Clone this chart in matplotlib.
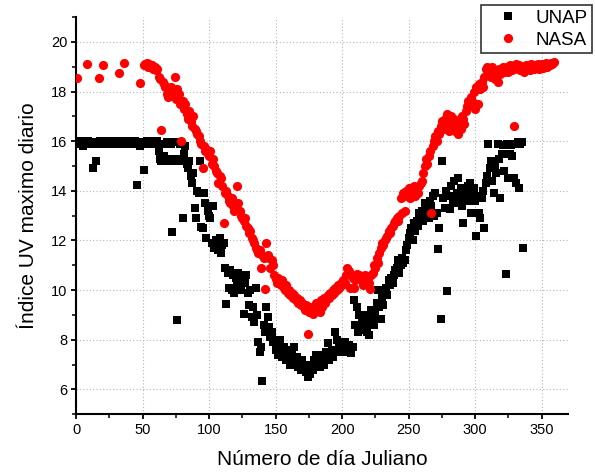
import matplotlib
matplotlib.use("Agg")
import matplotlib.pyplot as plt
from matplotlib.ticker import MultipleLocator

plt.rcParams['font.family'] = ['Liberation Sans', 'DejaVu Sans']

# ---- data ----
unap_day = [1, 2, 3, 4, 5, 6, 7, 8, 9, 10, 11, 12, 13, 14, 15, 16, 17, 18,
            22, 23, 24, 25, 26, 27, 28, 29, 30, 31, 32, 33, 34, 35, 36, 37, 38, 39, 40,
            41, 42, 43, 44, 45, 46, 47, 48, 49, 50, 51, 52, 53, 54, 55, 56, 57, 58, 59, 60, 61,
            62, 63, 64, 65, 66, 67, 68, 69, 70, 71, 72, 73, 74, 75, 76, 77, 78, 79, 80,
            81, 82, 83, 84, 85, 86, 87, 88, 89, 90, 91, 92, 93, 94, 95, 96, 97, 98, 99, 100,
            101, 102, 103, 104, 105, 106, 107, 108, 109, 110, 111, 112, 113, 114, 115, 116, 117, 118, 119, 120,
            121, 122, 123, 124, 125, 126, 127, 128, 129, 130, 131, 132, 133, 134, 135, 136, 137, 138, 139, 140,
            141, 142, 143, 144, 145, 146, 147, 148, 149, 150, 151, 152, 153, 154, 155, 156, 157, 158, 159, 160,
            161, 162, 163, 164, 165, 166, 167, 168, 169, 170, 171, 172, 173, 174, 175, 176, 177, 178, 179, 180,
            181, 182, 183, 184, 185, 186, 187, 188, 189, 190, 191, 192, 193, 194, 195, 196, 197, 198, 199, 200,
            201, 202, 203, 204, 205, 206, 207, 208, 209, 210, 211, 212, 213, 214, 215, 216, 217, 218, 219, 220,
            221, 222, 223, 224, 225, 226, 227, 228, 229, 230, 231, 232, 233, 234, 235, 236, 237, 238, 239, 240,
            241, 242, 243, 244, 245, 246, 247, 248, 249, 250, 251, 252, 253, 254, 255, 256, 257, 258, 259, 260,
            261, 262, 263, 264, 265, 266, 267, 268, 269, 270, 271, 272, 273, 274, 275, 276, 277, 278, 279, 280,
            281, 282, 283, 284, 285, 286, 287, 288, 289, 290, 291, 292, 293, 294, 295, 296, 297, 298, 299, 300,
            301, 302, 303, 304, 305, 306, 307, 308, 309, 310, 311, 312, 313, 314, 315, 316, 317, 318, 319, 320,
            321, 322, 323, 324, 325, 326, 327, 328, 329, 330, 331, 332, 333, 334, 335, 336]
unap_uv = [15.95, 15.9, 16.0, 15.9, 15.8, 15.95, 15.9, 15.95, 16.0, 15.9, 15.95, 15.9, 14.9, 15.95, 15.2, 15.9, 15.95, 16.0,
           15.9, 15.95, 16.0, 15.9, 15.95, 15.9, 16.0, 15.95, 15.9, 15.95, 16.0, 15.9, 15.95, 15.9, 16.0, 15.95, 15.9, 15.95, 16.0,
           15.9, 15.95, 15.9, 16.0, 15.95, 14.25, 15.9, 15.8, 15.95, 15.9, 14.85, 15.95, 16.0, 15.9, 15.95, 15.9, 16.0, 15.95, 15.9, 15.95, 16.0,
           15.6, 15.3, 15.2, 15.9, 15.4, 15.3, 15.95, 15.2, 15.3, 15.9, 12.35, 15.3, 15.95, 15.2, 8.8, 15.3, 15.9, 15.2, 12.9,
           15.5, 15.8, 15.1, 14.9, 15.2, 14.6, 14.3, 14.7, 13.3, 12.9, 14.0, 13.9, 15.2, 12.55, 12.5, 13.9, 13.5, 12.1, 13.2, 13.0,
           12.9, 11.9, 13.4, 11.7, 12.0, 11.8, 11.6, 12.1, 11.5, 11.8, 11.9, 10.9, 9.45, 10.7, 10.1, 10.8, 10.0, 10.6, 9.9, 10.5,
           10.3, 10.7, 10.0, 10.2, 10.5, 9.05, 10.3, 10.6, 9.9, 9.4, 10.0, 8.9, 9.3, 8.7, 10.1, 9.0, 7.9, 7.5, 7.7, 6.35,
           8.6, 8.3, 9.3, 8.9, 8.5, 8.1, 8.3, 7.9, 8.0, 7.6, 7.8, 7.4, 8.0, 7.6, 7.3, 7.7, 7.5, 7.2, 7.6, 7.4,
           7.0, 7.5, 7.2, 7.7, 7.0, 7.3, 6.9, 7.1, 6.8, 7.2, 6.9, 7.0, 6.7, 6.5, 6.85, 6.6, 7.0, 6.8, 7.2, 7.4,
           7.0, 7.3, 6.9, 7.1, 7.4, 7.0, 7.3, 7.5, 7.85, 7.2, 7.4, 7.6, 7.3, 7.5, 8.3, 8.0, 7.6, 7.8, 7.5, 7.7,
           7.6, 7.9, 7.5, 7.7, 7.8, 7.6, 7.45, 7.7, 9.6, 8.6, 9.3, 8.3, 9.0, 8.5, 8.8, 8.4, 9.0, 8.6, 8.3, 8.2,
           8.7, 9.2, 8.9, 8.6, 9.0, 9.5, 10.0, 9.3, 8.85, 9.7, 9.4, 9.9, 10.1, 9.8, 10.4, 10.2, 10.5, 10.3, 10.6, 10.8,
           10.9, 11.2, 10.7, 11.0, 11.3, 11.1, 11.2, 11.6, 11.8, 12.1, 12.3, 12.5, 12.0, 12.7, 12.4, 12.8, 12.6, 13.1, 12.9, 13.2,
           12.8, 13.5, 13.0, 13.3, 12.9, 13.6, 13.4, 13.8, 13.0, 13.9, 13.1, 11.65, 12.5, 8.85, 15.2, 13.7, 13.3, 14.0, 9.95, 13.8,
           13.25, 14.2, 13.6, 14.4, 13.5, 13.9, 14.5, 13.7, 14.1, 13.4, 12.7, 13.8, 14.0, 13.6, 14.2, 14.3, 13.1, 13.9, 14.1, 13.6,
           12.2, 13.8, 13.1, 12.9, 13.7, 14.0, 12.5, 14.3, 14.6, 15.9, 14.9, 15.2, 14.4, 13.9, 15.0, 14.7, 15.9, 15.3, 13.7, 15.5,
           15.85, 14.8, 10.65, 15.9, 14.5, 15.5, 15.85, 15.4, 14.5, 15.9, 14.3, 15.95, 14.1, 15.9, 15.95, 11.7]

nasa_day = [1, 8, 17, 20, 32, 36, 48,
            51, 52, 53, 54, 55, 56, 57, 58, 59, 60, 61, 62, 63, 64, 65, 66, 67, 68, 69, 70,
            71, 72, 74, 75, 76, 77, 78, 79, 80, 81, 82, 83, 84, 85, 86, 87, 88, 89, 90,
            91, 92, 93, 94, 95, 96, 97, 98, 99, 100, 101, 102, 103, 104, 105, 106, 107, 108, 109, 110,
            111, 112, 113, 114, 115, 116, 117, 118, 119, 120, 121, 122, 123, 124, 125, 126, 127, 128, 129, 130,
            131, 132, 133, 134, 135, 136, 137, 138, 139, 140, 141, 142, 143, 144, 145, 146, 147, 148, 149, 150,
            151, 152, 153, 154, 155, 156, 157, 158, 159, 160, 161, 162, 163, 164, 165, 166, 167, 168, 169, 170,
            171, 172, 173, 174, 175, 176, 177, 178, 179, 180, 181, 182, 183, 184, 185, 186, 187, 188, 189, 190,
            191, 192, 193, 194, 195, 196, 197, 198, 199, 200, 201, 202, 203, 204, 205, 206, 207, 208, 209, 210,
            211, 212, 213, 214, 215, 216, 217, 218, 219, 220, 221, 222, 223, 224, 225, 226, 227, 228, 229, 230,
            231, 232, 233, 234, 235, 236, 237, 238, 239, 240, 241, 242, 243, 244, 245, 246, 247, 248, 249, 250,
            251, 252, 253, 254, 255, 256, 257, 258, 259, 260, 261, 262, 263, 264, 265, 266, 267, 268, 269, 270,
            271, 272, 273, 274, 275, 276, 277, 278, 279, 280, 281, 282, 283, 284, 285, 286, 287, 288, 289, 290,
            291, 292, 293, 294, 295, 296, 297, 298, 299, 300, 301, 302, 303, 304, 305, 306, 307, 308, 309, 310,
            311, 312, 313, 314, 315, 316, 317, 318, 319, 320, 321, 322, 323, 324, 325, 326, 327, 328, 329, 330,
            331, 332, 333, 334, 335, 336, 337, 338, 339, 340, 341, 342, 343, 344, 345, 346, 347, 348, 349, 350,
            351, 352, 353, 354, 355, 356, 357, 358, 359]
nasa_uv = [18.55, 19.1, 18.55, 19.05, 18.75, 19.15, 18.35,
           19.05, 19.1, 19.15, 19.0, 19.1, 19.0, 19.05, 18.9, 19.0, 18.85, 18.9, 18.6, 18.5, 16.45, 18.4, 18.3, 18.2, 17.9, 17.8, 18.0,
           18.2, 17.95, 18.6, 17.7, 18.1, 17.9, 17.5, 16.0, 17.6, 17.3, 17.5, 17.1, 16.9, 17.2, 16.8, 16.6, 17.0, 16.5, 16.4,
           16.3, 16.2, 16.0, 15.9, 14.9, 15.8, 15.6, 15.7, 15.5, 15.4, 15.6, 15.1, 15.3, 15.0, 14.8, 14.7, 14.3, 14.6, 14.5, 14.2,
           12.7, 13.9, 14.0, 13.8, 13.6, 13.5, 13.7, 13.4, 13.2, 13.4, 14.2, 13.5, 13.2, 13.0, 12.9, 12.8, 12.9, 12.6, 12.5, 12.3,
           12.4, 12.1, 12.0, 11.9, 11.7, 11.6, 11.5, 11.6, 10.9, 11.4, 11.3, 10.05, 11.9, 11.4, 11.3, 10.9, 11.2, 11.0, 10.6, 10.45,
           10.3, 10.5, 10.4, 10.2, 10.4, 10.1, 10.0, 10.2, 9.9, 10.0, 9.8, 9.9, 9.7, 9.8, 9.6, 9.7, 9.5, 9.6, 9.4, 9.5,
           9.3, 9.2, 9.4, 8.25, 9.1, 9.3, 9.2, 9.05, 9.3, 9.5, 9.2, 9.4, 9.1, 9.6, 9.3, 9.7, 9.5, 9.6, 9.8, 9.7,
           9.9, 9.8, 10.0, 9.9, 10.1, 10.0, 10.2, 10.1, 10.3, 10.2, 10.4, 10.3, 10.6, 10.9, 10.75, 10.1, 10.6, 10.5, 10.1, 10.4,
           10.65, 10.5, 10.6, 10.4, 10.5, 10.2, 10.6, 10.4, 10.5, 10.3, 10.05, 10.6, 10.7, 11.0, 10.9, 11.3, 11.1, 11.5, 11.7, 11.9,
           11.8, 12.0, 12.1, 12.2, 12.4, 12.3, 12.5, 12.6, 12.7, 12.8, 12.9, 12.8, 13.0, 13.7, 13.1, 13.9, 13.2, 14.0, 13.8, 14.1,
           13.7, 14.0, 13.9, 14.2, 13.8, 14.1, 13.9, 14.2, 14.3, 14.4, 14.7, 15.0, 15.3, 15.1, 15.4, 15.6, 13.1, 15.8, 16.0, 16.2,
           16.0, 16.4, 16.3, 16.6, 16.8, 16.5, 16.9, 16.7, 17.1, 16.4, 16.8, 17.0, 16.6, 16.9, 16.4, 16.7, 16.3, 16.8, 16.5, 17.0,
           16.9, 16.7, 17.2, 17.4, 17.6, 17.5, 17.8, 17.6, 18.0, 17.3, 18.2, 17.5, 18.3, 18.1, 18.4, 18.2, 18.6, 18.9, 19.0, 18.7,
           18.9, 18.6, 19.0, 18.7, 18.5, 18.8, 18.4, 18.9, 18.7, 18.9, 19.0, 18.8, 18.9, 19.0, 18.8, 19.05, 18.9, 18.85, 16.6, 19.0,
           19.1, 18.9, 19.05, 18.85, 18.95, 19.0, 18.8, 19.05, 18.9, 19.0, 18.85, 19.1, 19.0, 18.9, 19.05, 18.95, 19.1, 18.9, 19.0, 19.1,
           18.95, 19.05, 19.15, 19.0, 19.1, 19.05, 19.15, 19.1, 19.2]

x_ticks = [0, 50, 100, 150, 200, 250, 300, 350]
y_ticks = [6, 8, 10, 12, 14, 16, 18, 20]

fig = plt.figure(figsize=(5.95, 4.75), dpi=100)
ax = fig.add_axes([0.128, 0.128, 0.827, 0.836])

ax.plot(unap_day, unap_uv, linestyle='none', marker='s', markersize=5.2,
        color='black', markeredgewidth=0, label='UNAP', zorder=3)
ax.plot(nasa_day, nasa_uv, linestyle='none', marker='o', markersize=6.6,
        color='#ff0000', markeredgewidth=0, label='NASA', zorder=4)

ax.set_xlim(0, 370)
ax.set_ylim(5, 21)
ax.set_xticks(x_ticks)
ax.set_yticks(y_ticks)
ax.xaxis.set_minor_locator(MultipleLocator(25))
ax.yaxis.set_minor_locator(MultipleLocator(1))

ax.spines['top'].set_visible(False)
ax.spines['right'].set_visible(False)
ax.spines['left'].set_linewidth(1.5)
ax.spines['bottom'].set_linewidth(1.5)
ax.tick_params(which='major', direction='out', length=3.5, width=1.3, labelsize=10.5, pad=3)
ax.tick_params(which='minor', direction='out', length=3, width=1.1)

ax.grid(True, which='major', linestyle=(0, (1, 2)), color='#b5b5b5', linewidth=0.8)
ax.set_axisbelow(True)

ax.set_xlabel('Número de día Juliano', fontsize=15, labelpad=9)
ax.set_ylabel('Índice UV maximo diario', fontsize=15, labelpad=9)

fig.legend(loc='upper left', bbox_to_anchor=(481 / 595, 1 - 5 / 475),
           bbox_transform=fig.transFigure, fontsize=13.5, frameon=True,
           fancybox=False, edgecolor='black', borderpad=0.25, borderaxespad=0,
           handlelength=2.4, handletextpad=0.25, labelspacing=0.25, markerscale=1.0)
leg = fig.legends[0]
leg.get_frame().set_linewidth(1.2)

fig.savefig('out.png', dpi=100)
